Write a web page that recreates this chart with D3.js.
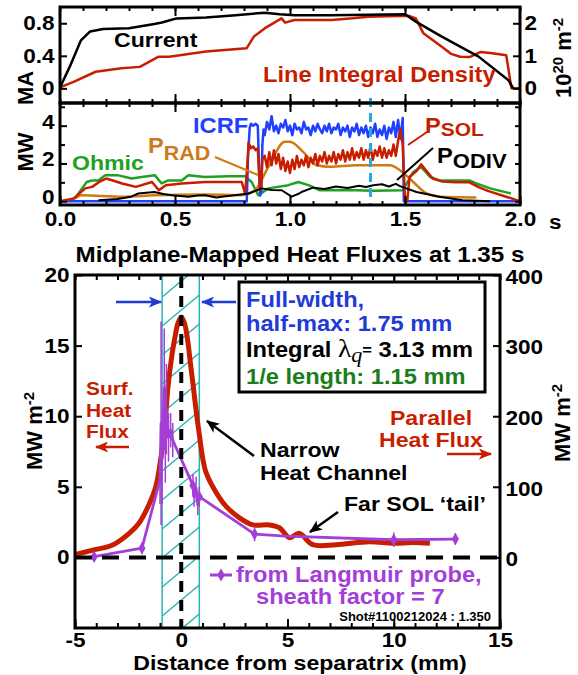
<!DOCTYPE html>
<html>
<head>
<meta charset="utf-8">
<script src="https://cdn.jsdelivr.net/npm/d3@7"></script>
<style>
body { margin: 0; background: #fff; }
svg text { font-family: "Liberation Sans", Arial, Helvetica, sans-serif; font-weight: bold; }
</style>
</head>
<body>
<svg id="chart" width="578" height="675"></svg>
<script>
/* jshint esversion: 6 */

// ---- Top panel: plasma current (MA) and line integral density (1e20 m^-2) vs time (s)
const currentT = [0, 0.043, 0.091, 0.131, 0.187, 0.30, 0.41, 0.443, 0.507, 0.635, 0.763, 0.891, 0.955, 1.02, 1.18, 1.50, 1.547, 1.66, 1.82, 1.95, 1.97];
const currentMA = [0.01, 0.27, 0.59, 0.70, 0.73, 0.74, 0.79, 0.81, 0.86, 0.87, 0.90, 0.93, 0.91, 0.90, 0.90, 0.91, 0.82, 0.635, 0.39, 0.10, 0.0];

const densT = [0, 0.059, 0.155, 0.267, 0.347, 0.427, 0.475, 0.635, 0.811, 0.843, 0.891, 0.939, 0.963, 0.979, 1.019, 1.18, 1.26, 1.34, 1.515, 1.547, 1.58, 1.66, 1.70, 1.74, 1.78, 1.83, 1.88, 1.94, 1.963, 2.0];
const density = [0.03, 0.2, 0.51, 0.62, 0.66, 0.97, 0.97, 1.13, 1.23, 1.59, 1.85, 2.05, 2.15, 2.02, 2.1, 2.1, 2.15, 2.2, 2.23, 2.15, 1.69, 1.28, 1.06, 0.97, 0.96, 1.12, 1.08, 1.02, 0.0, 0.0];

// ---- Middle panel: powers (MW) vs time (s), [t, MW]
const ohmic = [[0.05, 0.1], [0.065, 0.15], [0.116, 1.02], [0.138, 1.1], [0.167, 1.1], [0.196, 1.37], [0.254, 1.37],
	[0.312, 1.2], [0.355, 1.28], [0.413, 1.37], [0.442, 0.94], [0.471, 1.1], [0.529, 1.1], [0.558, 1.37], [0.63, 1.28],
	[0.732, 1.32], [0.804, 1.32], [0.833, 1.02], [0.862, 0.32], [0.906, 0.68], [0.993, 0.85], [1.036, 1.02], [1.08, 0.85],
	[1.13, 0.58], [1.25, 0.6], [1.36, 0.55], [1.49, 0.58], [1.536, 1.55], [1.57, 1.82], [1.61, 1.28], [1.65, 1.1],
	[1.78, 1.1], [1.81, 0.94], [1.87, 0.68], [1.96, 0.41]];

const prad = [[0.065, 0.15], [0.094, 0.32], [0.268, 0.24], [0.413, 0.32], [0.63, 0.36], [0.79, 0.32], [0.848, 0.58],
	[0.906, 1.82], [0.978, 3.15], [1.0, 3.15], [1.058, 2.6], [1.116, 1.9], [1.174, 1.82], [1.29, 1.9], [1.435, 1.9],
	[1.478, 1.64], [1.536, 1.02], [1.594, 0.41], [1.65, 0.24], [1.81, 0.2]];

const podiv = [[0.167, 0.05], [0.25, 0.12], [0.31, 0.24], [0.34, 0.41], [0.41, 0.49], [0.45, 0.38], [0.486, 0.32],
	[0.558, 0.24], [0.6, 0.3], [0.63, 0.32], [0.68, 0.2], [0.703, 0.24], [0.76, 0.32], [0.819, 0.41], [0.877, 0.68],
	[0.92, 0.6], [0.964, 0.58], [1.007, 0.24], [1.04, 0.41], [1.05, 0.49], [1.1, 0.72], [1.15, 0.65], [1.2, 0.78],
	[1.25, 0.7], [1.3, 0.82], [1.33, 0.75], [1.362, 0.85], [1.4, 0.9], [1.43, 0.78], [1.46, 0.92], [1.478, 0.8],
	[1.55, 0.49], [1.65, 0.24], [1.75, 0.05], [1.87, 0.0]];

const icrf = [[0, 0], [0.812, 0], [0.818, 2.5], [0.825, 3.9], [0.83, 4.1], [0.84, 4.0], [0.85, 4.1], [0.86, 4.0],
	[0.865, 2.0], [0.87, 0.3], [0.875, 0.5], [0.88, 3.0], [0.885, 3.8],
	[0.89, 3.5], [0.90, 4.2], [0.91, 3.8], [0.92, 4.5], [0.93, 3.7], [0.94, 4.0], [0.95, 3.6], [0.96, 4.1], [0.97, 3.9],
	[0.98, 4.3], [0.99, 3.7], [1.00, 4.0], [1.01, 3.5], [1.02, 4.1], [1.03, 3.8], [1.04, 3.9], [1.05, 3.6], [1.06, 4.2],
	[1.07, 3.8], [1.08, 3.9], [1.09, 3.5], [1.10, 4.0], [1.11, 3.7], [1.12, 4.1], [1.13, 3.8], [1.14, 3.6], [1.15, 4.0],
	[1.16, 3.7], [1.17, 4.1], [1.18, 3.6], [1.19, 3.9], [1.20, 3.8], [1.21, 4.1], [1.22, 3.5], [1.23, 3.9], [1.24, 3.7],
	[1.25, 4.0], [1.26, 3.4], [1.27, 3.9], [1.28, 3.7], [1.29, 4.1], [1.30, 3.5], [1.31, 3.9], [1.32, 3.6], [1.33, 4.0],
	[1.34, 3.4], [1.35, 3.9], [1.36, 3.6], [1.37, 4.1], [1.38, 3.4], [1.39, 3.8], [1.40, 3.5], [1.41, 4.0], [1.42, 3.3],
	[1.43, 3.9], [1.44, 3.6], [1.45, 4.2], [1.46, 3.4], [1.47, 4.3], [1.48, 3.3], [1.49, 4.4], [1.495, 0], [2.0, 0]];

const psol = [[0.0, 0], [0.06, 0.15], [0.11, 0.68], [0.14, 0.76], [0.17, 1.02], [0.2, 1.2], [0.23, 1.1], [0.27, 0.94],
	[0.33, 0.76], [0.4, 1.02], [0.43, 0.58], [0.46, 0.85], [0.53, 0.94], [0.63, 1.02], [0.73, 1.02], [0.79, 1.02],
	[0.805, 0.4], [0.815, 2.0], [0.82, 3.1], [0.83, 2.8], [0.84, 2.9], [0.85, 2.7], [0.86, 2.8], [0.865, 1.5],
	[0.87, 0.6], [0.875, 0.8], [0.88, 2.2],
	[0.89, 2.4], [0.90, 1.8], [0.91, 2.6], [0.92, 1.9], [0.93, 2.7], [0.94, 2.0], [0.95, 2.5], [0.96, 1.7], [0.97, 2.3],
	[0.98, 1.6], [0.99, 2.1], [1.00, 1.5], [1.01, 2.2], [1.02, 1.7], [1.03, 2.4], [1.04, 1.8], [1.05, 2.2], [1.06, 1.9],
	[1.07, 2.4], [1.08, 1.8], [1.09, 2.3], [1.10, 2.0], [1.11, 2.5], [1.12, 1.9], [1.13, 2.4], [1.14, 2.1], [1.15, 2.6],
	[1.16, 2.0], [1.17, 2.4], [1.18, 2.1], [1.19, 2.6], [1.20, 2.0], [1.21, 2.5], [1.22, 2.2], [1.23, 2.7], [1.24, 2.1],
	[1.25, 2.6], [1.26, 2.2], [1.27, 2.8], [1.28, 2.2], [1.29, 2.6], [1.30, 2.3], [1.31, 2.8], [1.32, 2.2], [1.33, 2.7],
	[1.34, 2.3], [1.35, 2.9], [1.36, 2.2], [1.37, 2.7], [1.38, 2.4], [1.39, 2.9], [1.40, 2.3], [1.41, 2.8], [1.42, 2.3],
	[1.43, 2.7], [1.44, 2.4], [1.45, 3.0], [1.46, 2.4], [1.47, 3.2], [1.48, 3.8], [1.49, 3.0], [1.50, 0.1], [1.51, 0],
	[1.52, 1.3], [1.55, 1.6], [1.57, 1.95], [1.6, 1.5], [1.62, 1.2], [1.66, 1.05], [1.72, 1.0], [1.78, 1.0],
	[1.82, 0.75], [1.86, 0.55], [1.94, 0.24], [2.0, 0.0]];

const sliceTime = 1.35;

// ---- Bottom panel: heat flux profiles vs distance from separatrix (mm)
const surfX = [-5.0, -4.2, -3.2, -2.45, -2.0, -1.5, -1.2, -1.0, -0.8, -0.63, -0.45, -0.32, -0.15, 0.0, 0.15, 0.3,
	0.42, 0.55, 0.75, 0.86, 1.0, 1.17, 1.64, 2.12, 2.74, 3.37, 4.15, 4.62, 5.09, 5.56, 6.19, 7.29, 8.86, 9.96, 10.9, 11.7];
const surfQ = [0.2, 0.5, 0.9, 1.7, 2.4, 3.8, 5.0, 6.6, 8.8, 12.0, 14.2, 15.4, 16.6, 17.0, 16.6, 15.4, 13.9, 12.3,
	9.8, 8.6, 7.1, 6.0, 4.6, 3.6, 2.8, 2.3, 2.3, 2.1, 1.4, 1.7, 0.9, 0.9, 1.1, 1.0, 1.05, 1.0];

const probeX = [-4.1, -1.85, -1.0, -0.95, -0.9, -0.8, -0.75, -0.7, -0.6, -0.5, -0.4, 0.55, 0.6, 0.7, 0.78, 0.85, 3.45, 4.9, 10.0, 12.9];
const probeQ = [0.05, 0.65, 5.5, 9.5, 7.0, 12.0, 8.0, 10.5, 8.5, 9.0, 8.3, 5.1, 4.3, 4.9, 3.7, 4.3, 1.65, 1.5, 1.25, 1.3];
const probeErr = [0.1, 0.2, 1.5, 7.0, 3.0, 4.0, 2.5, 3.0, 1.5, 1.0, 1.0, 0.6, 0.5, 0.6, 0.5, 0.5, 0.3, 0, 0.3, 0.2];
const probeMark = [1, 1, 0, 0, 0, 0, 0, 0, 0, 0, 0, 1, 0, 0, 0, 1, 1, 0, 1, 1];

const bandMM = [-0.9, 0.85]; // full width at half max, 1.75 mm

const red = "#c81e00", blue = "#1f3bd6", purple = "#a33fd6", green = "#1d7d1d", cyan = "#2db3b3";
const sx = 1.1; // the lettering in the figure runs a bit wide

const svg = d3.select("#chart");

// Scales
const xTime = d3.scaleLinear().domain([0, 2]).range([60, 520]);
const yMA = d3.scaleLinear().domain([-0.18, 1.0]).range([103, 7]);
const yDens = d3.scaleLinear().domain([-0.45, 2.5]).range([103, 7]);
const yMW = d3.scaleLinear().domain([-0.2, 5.2]).range([205, 103]);
const xSep = d3.scaleLinear().domain([-5, 15]).range([75, 500]);
const ySurf = d3.scaleLinear().domain([-5, 20]).range([628, 275]);
const yPar = d3.scaleLinear().domain([-100, 400]).range([628, 275]);

// Arrow heads
const defs = svg.append("defs");
[["blue", blue], ["red", red], ["black", "#000"]].forEach(([name, c]) => {
	defs.append("marker")
			.attr("id", "head-" + name)
			.attr("viewBox", "0 0 12 10")
			.attr("refX", 11).attr("refY", 5)
			.attr("markerWidth", 14).attr("markerHeight", 11)
			.attr("markerUnits", "userSpaceOnUse")
			.attr("orient", "auto")
		.append("path")
			.attr("d", "M0,0 L12,5 L0,10 L3,5 z")
			.attr("fill", c);
});

function trace(g, pts, x, y, color, w, curve) {
	g.append("path")
		.datum(pts)
			.attr("fill", "none")
			.attr("stroke", color)
			.attr("stroke-width", w)
			.attr("stroke-linejoin", "round")
			.attr("d", d3.line().x(d => x(d[0])).y(d => y(d[1])).curve(curve || d3.curveLinear));
}

function zip(xs, ys) {
	return xs.map((d, i) => [d, ys[i]]);
}

function styleAxis(g, size) {
	g.select(".domain").remove();
	g.selectAll(".tick line").attr("stroke", "#000").attr("stroke-width", 2);
	g.selectAll(".tick text")
			.attr("fill", "#000")
			.attr("font-size", size || 20.5)
			.attr("font-family", '"Liberation Sans", Arial, sans-serif')
			.attr("font-weight", "bold")
			.attr("transform", `scale(${sx},1)`);
}

function frame(x0, y0, x1, y1) {
	svg.append("rect")
			.attr("x", x0).attr("y", y0)
			.attr("width", x1 - x0).attr("height", y1 - y0)
			.attr("fill", "none")
			.attr("stroke", "#000")
			.attr("stroke-width", 3);
}

function label(x, y, txt, color, size, anchor) {
	return svg.append("text")
			.attr("transform", `translate(${x},${y}) scale(${sx},1)`)
			.attr("fill", color || "#000")
			.attr("font-size", size || 21)
			.attr("text-anchor", anchor || "start")
			.text(txt);
}

// Rotated unit label with optional superscript pieces
function vlabel(x, y, parts) {
	const t = svg.append("text")
			.attr("transform", `translate(${x},${y}) rotate(-90)`)
			.attr("text-anchor", "middle")
			.attr("font-size", 22);
	parts.forEach(p => {
		t.append("tspan")
				.attr("font-size", p.sup ? 15 : 22)
				.attr("dy", p.dy || 0)
				.text(p.text);
	});
}

// ================= TOP PANEL =================
const gTop = svg.append("g");
trace(gTop, zip(densT, density), xTime, yDens, red, 2.5);
trace(gTop, zip(currentT, currentMA), xTime, yMA, "#000", 2.5);

svg.append("g").attr("transform", "translate(60,0)")
	.call(d3.axisLeft(yMA).tickValues([0, 0.4, 0.8]).tickSize(-7).tickPadding(5).tickFormat(d => d === 0 ? "0" : d3.format(".1f")(d)))
	.call(g => styleAxis(g));
svg.append("g").attr("transform", "translate(520,0)")
	.call(d3.axisRight(yDens).tickValues([0, 1, 2]).tickSize(-7).tickPadding(4).tickFormat(d3.format("d")))
	.call(g => styleAxis(g));
svg.append("g").attr("transform", "translate(0,7)")
	.call(d3.axisTop(xTime).ticks(20).tickSize(-4).tickFormat(""))
	.call(g => styleAxis(g));
svg.append("g").attr("transform", "translate(0,7)")
	.call(d3.axisTop(xTime).tickValues([0.5, 1, 1.5]).tickSize(-9).tickFormat(""))
	.call(g => styleAxis(g));
frame(60, 7, 520, 103);

label(114, 47, "Current", "#000", 21);
label(263, 82, "Line Integral Density", red, 21.5);
vlabel(33, 88, [{text: "MA"}]);
vlabel(571, 58, [{text: "10"}, {text: "20", sup: true, dy: -8}, {text: " m", dy: 8}, {text: "-2", sup: true, dy: -8}]);

// ================= MIDDLE PANEL =================
const gMid = svg.append("g");
svg.append("line")
		.attr("x1", xTime(sliceTime)).attr("x2", xTime(sliceTime))
		.attr("y1", 98).attr("y2", 205)
		.attr("stroke", "#2aa8d8")
		.attr("stroke-width", 3)
		.attr("stroke-dasharray", "9,6");
trace(gMid, ohmic, xTime, yMW, "#22a022", 2.5);
trace(gMid, prad, xTime, yMW, "#d07a10", 2.5, d3.curveMonotoneX);
trace(gMid, icrf, xTime, yMW, "#1e40ff", 2.5);
trace(gMid, psol, xTime, yMW, red, 2.5);
trace(gMid, podiv, xTime, yMW, "#000", 2);

svg.append("g").attr("transform", "translate(60,0)")
	.call(d3.axisLeft(yMW).tickValues([0, 2, 4]).tickSize(-7).tickPadding(5).tickFormat(d3.format("d")))
	.call(g => styleAxis(g))
	.call(g => g.selectAll(".tick text").attr("dy", "0.12em"));
svg.append("g").attr("transform", "translate(60,0)")
	.call(d3.axisLeft(yMW).tickValues([1, 3, 5]).tickSize(-5).tickFormat(""))
	.call(g => styleAxis(g));
svg.append("g").attr("transform", "translate(520,0)")
	.call(d3.axisRight(yMW).tickValues([0, 1, 2, 3, 4, 5]).tickSize(-5).tickFormat(""))
	.call(g => styleAxis(g));
svg.append("g").attr("transform", "translate(0,205)")
	.call(d3.axisBottom(xTime).ticks(20).tickSize(-4).tickFormat(""))
	.call(g => styleAxis(g));
svg.append("g").attr("transform", "translate(0,205)")
	.call(d3.axisBottom(xTime).tickValues([0, 0.5, 1, 1.5, 2]).tickSize(-9).tickPadding(6).tickFormat(d3.format(".1f")))
	.call(g => styleAxis(g));
// ticks on the shared border, both directions
svg.append("g").attr("transform", "translate(0,103)")
	.call(d3.axisBottom(xTime).ticks(20).tickSizeInner(4).tickSizeOuter(0).tickFormat(""))
	.call(g => styleAxis(g))
	.call(g => g.selectAll(".tick line").attr("y1", -4));
svg.append("g").attr("transform", "translate(0,103)")
	.call(d3.axisBottom(xTime).tickValues([0.5, 1, 1.5]).tickSizeInner(9).tickFormat(""))
	.call(g => styleAxis(g))
	.call(g => g.selectAll(".tick line").attr("y1", -9));
frame(60, 103, 520, 205);
label(549, 229, "s", "#000", 20.5);

label(193, 133, "ICRF", "#1e40ff", 21.5);
label(72, 170, "Ohmic", "#22a022", 21);
const pradLabel = label(148, 153, "P", "#d0781a", 21.5);
pradLabel.append("tspan").attr("dy", 7).attr("font-size", 19.5).text("RAD");
const psolLabel = label(425, 133, "P", red, 21.5);
psolLabel.append("tspan").attr("dy", 3).attr("font-size", 19).text("SOL");
const podivLabel = label(437, 163, "P", "#000", 21.5);
podivLabel.append("tspan").attr("dy", 5).attr("font-size", 20).text("ODIV");

// pointer lines for the middle labels
[[215, 157, 258, 175, "#d07a10"], [427, 132, 408, 145, red], [433, 148, 397, 180, "#000"]].forEach(([x1, y1, x2, y2, c]) => {
	svg.append("line")
			.attr("x1", x1).attr("y1", y1).attr("x2", x2).attr("y2", y2)
			.attr("stroke", c).attr("stroke-width", 2);
});
vlabel(33, 152, [{text: "MW"}]);

// ================= BOTTOM PANEL =================
label(300, 262, "Midplane-Mapped Heat Fluxes at 1.35 s", "#000", 22, "middle");

// Hatched full-width half-max band
const bx0 = xSep(bandMM[0]), bx1 = xSep(bandMM[1]);
defs.append("clipPath").attr("id", "band-clip")
	.append("rect")
		.attr("x", bx0).attr("y", 275)
		.attr("width", bx1 - bx0).attr("height", 353);
const band = svg.append("g").attr("clip-path", "url(#band-clip)");
d3.range(268, 690, 29).forEach(y0 => {
	band.append("line")
			.attr("x1", bx0).attr("y1", y0)
			.attr("x2", bx1).attr("y2", y0 - 31)
			.attr("stroke", cyan).attr("stroke-width", 1.5);
});
[bx0, bx1].forEach(x => {
	svg.append("line")
			.attr("x1", x).attr("x2", x).attr("y1", 275).attr("y2", 628)
			.attr("stroke", cyan).attr("stroke-width", 1.5);
});

// Surface heat flux (red, thick)
const gBot = svg.append("g");
trace(gBot, zip(surfX, surfQ), xSep, ySurf, red, 5, d3.curveCatmullRom.alpha(0.5));

// Langmuir probe (purple) with error bars and markers
const probe = probeX.map((d, i) => ({x: d, q: probeQ[i], err: probeErr[i], mark: probeMark[i]}));
trace(gBot, zip(probeX, probeQ), xSep, ySurf, purple, 2.8);
gBot.selectAll(".err")
	.data(probe.filter(d => d.err > 0))
	.enter()
	.append("line")
		.attr("class", "err")
		.attr("x1", d => xSep(d.x)).attr("x2", d => xSep(d.x))
		.attr("y1", d => ySurf(d.q - d.err) + 3).attr("y2", d => ySurf(d.q + d.err) - 3)
		.attr("stroke", purple).attr("stroke-width", 1.5);
gBot.selectAll(".mark")
	.data(probe.filter(d => d.mark))
	.enter()
	.append("path")
		.attr("class", "mark")
		.attr("transform", d => `translate(${xSep(d.x)},${ySurf(d.q)})`)
		.attr("d", d3.symbol().type(d3.symbolDiamond).size(45))
		.attr("fill", purple);

// Dashed zero lines
svg.append("line")
		.attr("x1", xSep(0)).attr("x2", xSep(0)).attr("y1", 277).attr("y2", 628)
		.attr("stroke", "#000").attr("stroke-width", 4).attr("stroke-dasharray", "11,8");
svg.append("line")
		.attr("x1", 75).attr("x2", 500).attr("y1", ySurf(0)).attr("y2", ySurf(0))
		.attr("stroke", "#000").attr("stroke-width", 4).attr("stroke-dasharray", "17,10");

// Axes
svg.append("g").attr("transform", "translate(0,628)")
	.call(d3.axisBottom(xSep).ticks(20).tickSize(-5).tickFormat(""))
	.call(g => styleAxis(g));
svg.append("g").attr("transform", "translate(0,628)")
	.call(d3.axisBottom(xSep).tickValues([-5, 0, 5, 10, 15]).tickSize(-9).tickPadding(4).tickFormat(d => String(d)))
	.call(g => styleAxis(g));
svg.append("g").attr("transform", "translate(0,275)")
	.call(d3.axisTop(xSep).ticks(20).tickSize(-5).tickFormat(""))
	.call(g => styleAxis(g));
svg.append("g").attr("transform", "translate(0,275)")
	.call(d3.axisTop(xSep).tickValues([0, 5, 10]).tickSize(-9).tickFormat(""))
	.call(g => styleAxis(g));
svg.append("g").attr("transform", "translate(75,0)")
	.call(d3.axisLeft(ySurf).tickValues([0, 5, 10, 15, 20]).tickSize(-7).tickPadding(5))
	.call(g => styleAxis(g));
svg.append("g").attr("transform", "translate(500,0)")
	.call(d3.axisRight(yPar).tickValues([0, 100, 200, 300, 400]).tickSize(-7).tickPadding(5))
	.call(g => styleAxis(g))
	.call(g => g.selectAll(".tick text").attr("dy", "0.4em"));
frame(75, 275, 500, 628);

label(300, 670, "Distance from separatrix (mm)", "#000", 21, "middle");
vlabel(42, 431, [{text: "MW m"}, {text: "-2", sup: true, dy: -8}]);
vlabel(570, 423, [{text: "MW m"}, {text: "-2", sup: true, dy: -8}]);

// Legend box
svg.append("rect")
		.attr("x", 239).attr("y", 282)
		.attr("width", 246).attr("height", 110)
		.attr("fill", "#fff")
		.attr("stroke", "#000")
		.attr("stroke-width", 3);
label(246, 307, "Full-width,", blue, 21.5);
label(246, 331, "half-max: 1.75 mm", blue, 21.5);
const integral = label(246, 357, "Integral ", "#000", 21.5);
integral.append("tspan")
		.attr("font-family", '"Liberation Serif", "Times New Roman", serif')
		.attr("font-weight", "normal")
		.attr("font-size", 25)
		.text("λ");
integral.append("tspan")
		.attr("font-family", '"Liberation Serif", "Times New Roman", serif')
		.attr("font-weight", "normal")
		.attr("font-style", "italic")
		.attr("font-size", 20)
		.attr("dy", 5)
		.text("q");
integral.append("tspan")
		.attr("font-size", 15)
		.attr("dy", -7)
		.text("=");
integral.append("tspan")
		.attr("dy", 2)
		.text(" 3.13 mm");
label(246, 384, "1/e length: 1.15 mm", green, 21.5);

// Blue FWHM arrows
[[116, 161], [236, 202]].forEach(([x1, x2]) => {
	svg.append("line")
			.attr("x1", x1).attr("x2", x2).attr("y1", 302).attr("y2", 302)
			.attr("stroke", blue).attr("stroke-width", 2.5)
			.attr("marker-end", "url(#head-blue)");
});

// Annotations
label(86, 395, "Surf.", red, 19);
label(86, 417, "Heat", red, 19);
label(86, 438, "Flux", red, 19);
svg.append("line")
		.attr("x1", 129).attr("x2", 96).attr("y1", 447).attr("y2", 447)
		.attr("stroke", red).attr("stroke-width", 2.5)
		.attr("marker-end", "url(#head-red)");
label(431, 425, "Parallel", red, 21, "middle");
label(431, 447, "Heat Flux", red, 21, "middle");
svg.append("line")
		.attr("x1", 447).attr("x2", 491).attr("y1", 454).attr("y2", 454)
		.attr("stroke", red).attr("stroke-width", 2.5)
		.attr("marker-end", "url(#head-red)");

label(260, 457, "Narrow", "#000", 21);
label(260, 480, "Heat Channel", "#000", 21);
svg.append("line")
		.attr("x1", 254).attr("y1", 456).attr("x2", 207).attr("y2", 421)
		.attr("stroke", "#000").attr("stroke-width", 2.5)
		.attr("marker-end", "url(#head-black)");
label(344, 511, "Far SOL \u2018tail\u2019", "#000", 21);
svg.append("line")
		.attr("x1", 338).attr("y1", 512).attr("x2", 310).attr("y2", 532)
		.attr("stroke", "#000").attr("stroke-width", 2.5)
		.attr("marker-end", "url(#head-black)");

// Langmuir probe legend
svg.append("line")
		.attr("x1", 210).attr("x2", 232).attr("y1", 575).attr("y2", 575)
		.attr("stroke", purple).attr("stroke-width", 3);
svg.append("path")
		.attr("transform", "translate(221,575)")
		.attr("d", d3.symbol().type(d3.symbolDiamond).size(50))
		.attr("fill", purple);
label(236, 582, "from Langmuir probe,", purple, 21.5);
label(256, 604, "sheath factor = 7", purple, 21.5);
svg.append("text")
		.attr("x", 491).attr("y", 621)
		.attr("font-size", 13)
		.attr("text-anchor", "end")
		.text("Shot#1100212024 : 1.350");
</script>
</body>
</html>
